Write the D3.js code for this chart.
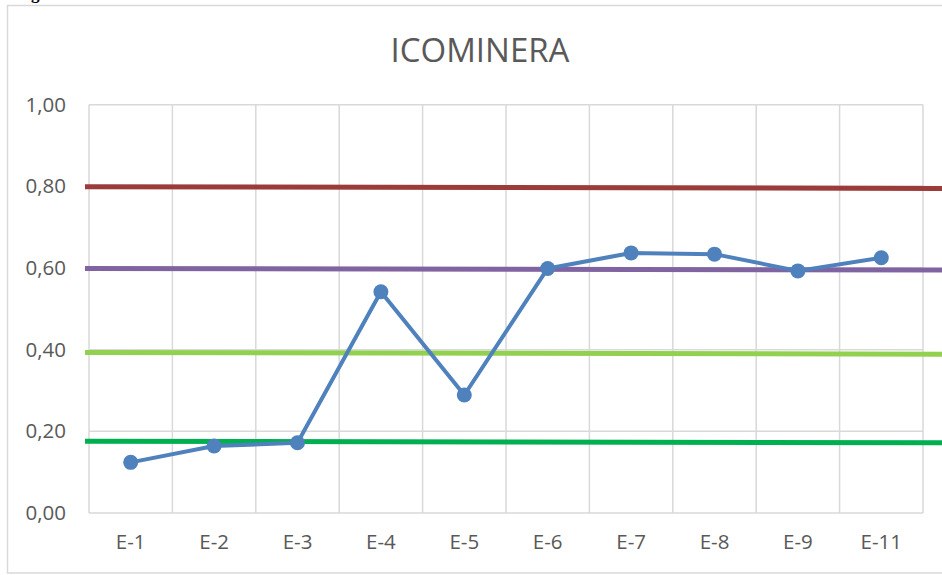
<!DOCTYPE html>
<html>
  <head>
    <meta charset="utf-8">
    <title>ICOMINERA</title>
    <script src="https://d3js.org/d3.v7.min.js"></script>
    <style>
      body { margin: 0; background: #fff; }
      svg { display: block; font-family: "Open Sans", sans-serif; }
      .grid line { stroke: #d9d9d9; stroke-width: 1.5; }
      .tick text { fill: #595959; }
    </style>
  </head>
  <body>
    <svg id="chart" width="942" height="575"></svg>
    <script>
      // data
      categories = ["E-1", "E-2", "E-3", "E-4", "E-5", "E-6", "E-7", "E-8", "E-9", "E-11"];
      values = [0.124, 0.164, 0.172, 0.542, 0.289, 0.599, 0.637, 0.634, 0.593, 0.625];
      yTicks = [0, 0.2, 0.4, 0.6, 0.8, 1.0];
      // reference lines: value at left end, value at right end
      refNames = ["rojo", "morado", "verdeClaro", "verde"];
      refStart = [0.799, 0.599, 0.393, 0.176];
      refEnd = [0.795, 0.595, 0.389, 0.172];
      refColours = ["#9b3b3a", "#8064a2", "#92d050", "#00b050"];

      svg = d3.select("#chart");
      width = 942;
      height = 575;
      margin = { top: 104.7, right: 19, bottom: 62, left: 89 };

      // outer chart border
      svg.append("rect")
        .attr("x", 7.5)
        .attr("y", 5.5)
        .attr("width", width + 10)
        .attr("height", 567.5)
        .attr("fill", "none")
        .attr("stroke", "#d9d9d9")
        .attr("stroke-width", 1.5);

      // cropped caption above the chart
      svg.append("text")
        .attr("x", 31)
        .attr("y", -1)
        .attr("font-family", "Liberation Serif")
        .attr("font-weight", "bold")
        .attr("font-size", 17)
        .attr("fill", "#000")
        .text("g");

      x = d3.scaleBand()
        .domain(categories)
        .range([margin.left, width - margin.right]);
      y = d3.scaleLinear()
        .domain([0, 1])
        .range([height - margin.bottom, margin.top]);

      // gridlines
      grid = svg.append("g").classed("grid", true);
      grid.selectAll(".h")
          .data(yTicks)
        .enter().append("line")
          .attr("x1", x.range()[0])
          .attr("x2", x.range()[1])
          .attr("y1", function(d) { return y(d); })
          .attr("y2", function(d) { return y(d); });
      grid.selectAll(".v")
          .data(categories.map(function(d) { return x(d); }).concat([x.range()[1]]))
        .enter().append("line")
          .attr("x1", function(d) { return d; })
          .attr("x2", function(d) { return d; })
          .attr("y1", y(1))
          .attr("y2", y(0));

      // axes
      yAxis = d3.axisLeft(y)
        .tickValues(yTicks)
        .tickSize(0)
        .tickPadding(23)
        .tickFormat(function(d) { return d3.format(".2f")(d).replace(".", ","); });
      svg.append("g")
        .attr("transform", "translate(" + margin.left + ",0)")
        .call(yAxis)
        .call(function(g) { g.select(".domain").remove(); })
        .selectAll("text")
          .attr("font-size", 20.5)
          .attr("font-family", "Open Sans");
      xAxis = d3.axisBottom(x)
        .tickSize(0)
        .tickPadding(21);
      svg.append("g")
        .attr("transform", "translate(0," + y(0) + ")")
        .call(xAxis)
        .call(function(g) { g.select(".domain").remove(); })
        .selectAll("text")
          .attr("font-size", 20.5)
          .attr("font-family", "Open Sans");

      // title
      svg.append("text")
        .attr("x", 480)
        .attr("y", 62)
        .attr("text-anchor", "middle")
        .attr("font-size", 33)
        .attr("fill", "#595959")
        .text("ICOMINERA");

      // reference lines
      svg.selectAll(".ref")
          .data(refNames)
        .enter().append("line")
          .classed("ref", true)
          .attr("x1", x.range()[0] - 4)
          .attr("x2", width)
          .attr("y1", function(d, i) { return y(refStart[i]); })
          .attr("y2", function(d, i) { return y(refEnd[i]); })
          .attr("stroke", function(d, i) { return refColours[i]; })
          .attr("stroke-width", 5);

      // series
      line = d3.line()
        .x(function(d, i) { return x(categories[i]) + x.bandwidth() / 2; })
        .y(function(d) { return y(d); });
      svg.append("path")
        .datum(values)
        .attr("d", line)
        .attr("fill", "none")
        .attr("stroke", "#4f81bd")
        .attr("stroke-width", 4)
        .attr("stroke-linejoin", "round");
      svg.selectAll(".point")
          .data(values)
        .enter().append("circle")
          .classed("point", true)
          .attr("cx", function(d, i) { return x(categories[i]) + x.bandwidth() / 2; })
          .attr("cy", function(d) { return y(d); })
          .attr("r", 7.5)
          .attr("fill", "#4f81bd");
    </script>
  </body>
</html>
